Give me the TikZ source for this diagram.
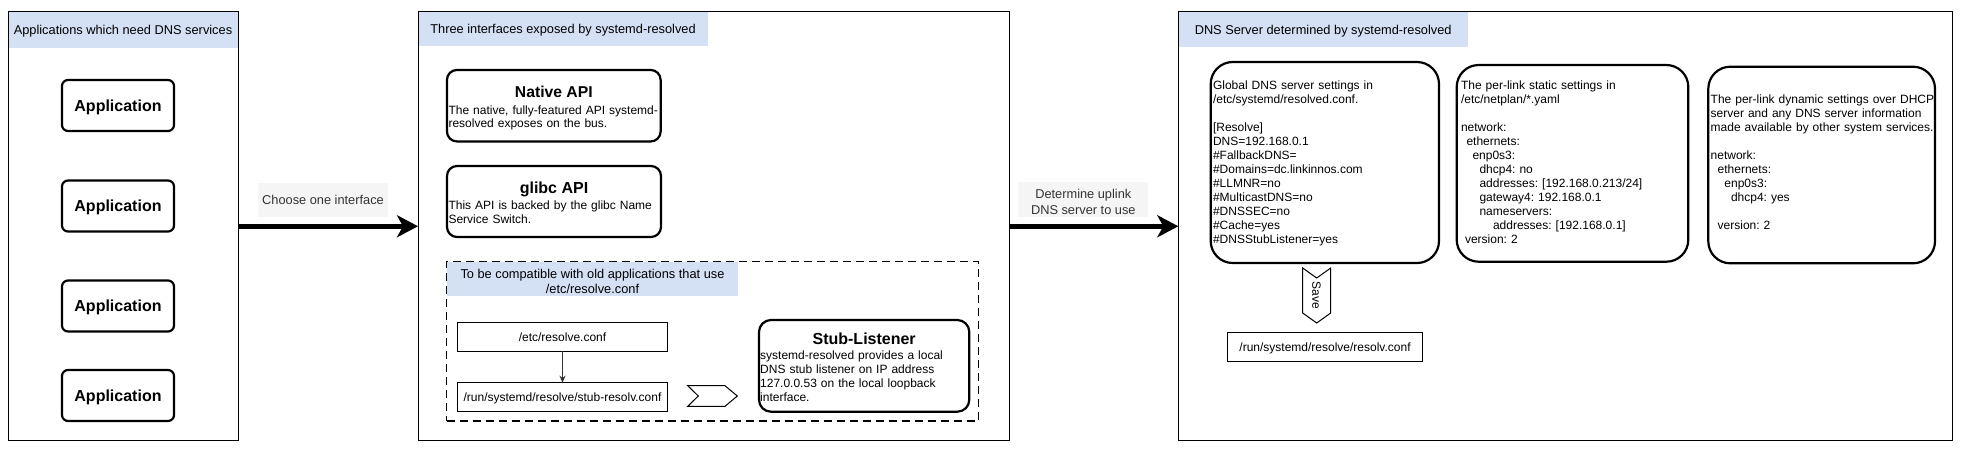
\documentclass[tikz,border=0pt]{standalone}
\usepackage{fontspec}
\setmainfont{Liberation Sans}
\usetikzlibrary{arrows.meta}
\definecolor{hdr}{HTML}{D4E1F5}
\definecolor{lblbg}{HTML}{F5F5F5}
\definecolor{txtgray}{HTML}{333333}
\newcommand\myfs[2]{\fontsize{#1pt}{#2pt}\selectfont}
\frenchspacing
\begin{document}
\frenchspacing
\begin{tikzpicture}[x=1pt,y=-1pt,
  every node/.style={inner sep=0pt,outer sep=0pt},
  panel/.style={draw=black,line width=1pt,rectangle},
  band/.style={fill=hdr,rectangle,font=\myfs{12.8}{15.4},text height=9.2pt,text depth=0pt},
  skbox/.style={draw=black,line width=2.2pt,rectangle,rounded corners=#1},
  skbox/.default=8pt,
  appbox/.style={skbox=6pt,minimum width=112pt,minimum height=51pt,font=\bfseries\myfs{16}{19},text height=11.5pt,text depth=0pt},
  body/.style={anchor=north west,align=left,text width=#1},
  plain/.style={draw=black,line width=1pt,rectangle,font=\myfs{12}{14},text height=8.6pt,text depth=0pt},
  lbl/.style={fill=lblbg,rectangle},
  bigarrow/.style={line width=5.5pt,-{Stealth[length=21pt,width=22pt,inset=6pt]}}
]
\useasboundingbox (0,0) rectangle (1967,451);
\fill[white] (0,0) rectangle (1967,451);

% ---------------- left panel
\node[band,minimum width=230pt,minimum height=35.8pt] (lph) at (123,29.6) {Applications which need DNS services};
\node[panel,minimum width=230pt,minimum height=429.1pt] (lp) at (123,226.25) {};
\node[appbox] (app1) at (118,105.5) {Application};
\node[appbox] (app2) at (118,206) {Application};
\node[appbox] (app3) at (118,306) {Application};
\node[appbox] (app4) at (118,395.5) {Application};

% ---------------- middle panel
\node[band,minimum width=290pt,minimum height=34.3pt] (mph) at (563,28.85) {Three interfaces exposed by systemd-resolved};
\node[panel,minimum width=591.3pt,minimum height=429.1pt] (mp) at (713.65,226.25) {};

\node[skbox=10pt,minimum width=213.7pt,minimum height=71.5pt] (native) at (553.8,105.7) {};
\node[font=\bfseries\myfs{15.7}{18},text height=11.3pt,text depth=0pt] (nativet) at (553.8,91.7) {Native API};
\node[body=214pt,font=\myfs{12}{13.5}] (nativeb) at (448.5,104.8) {\strut The native, fully-featured API systemd-\\resolved exposes on the bus.};

\node[skbox=10pt,minimum width=214pt,minimum height=71pt] (glibc) at (554,201.5) {};
\node[font=\bfseries\myfs{16}{19},text height=11.5pt,text depth=0pt] (glibct) at (554,187.7) {glibc API};
\node[body=214pt,font=\myfs{12}{14}] (glibcb) at (448.5,199.5) {\strut This API is backed by the glibc Name\\Service Switch.};

\node[fill=hdr,minimum width=291.6pt,minimum height=34.3pt] (cmph) at (592.5,278.85) {};
\node[draw=black,line width=1.5pt,dash pattern=on 8pt off 5pt,minimum width=531.6pt,minimum height=159.9pt] (compat) at (712.5,341.25) {};
\node[align=center,font=\myfs{12.8}{14.4}] (cmpht) at (592.5,281.5) {To be compatible with old applications that use\\/etc/resolve.conf};

\node[plain,minimum width=209.7pt,minimum height=28.7pt] (etc) at (562.5,336.7) {/etc/resolve.conf};
\node[plain,minimum width=209.7pt,minimum height=29pt] (stubf) at (562.5,397.2) {/run/systemd/resolve/stub-resolv.conf};
\draw[draw=txtgray,line width=1pt,-{Stealth[length=7pt,width=6pt,fill=txtgray]}] (etc) -- (stubf);

\draw[line width=1pt] (687.7,385.7) -- (725,385.7) -- (737.3,396) -- (725,406.3) -- (687.7,406.3) -- (698.3,396) -- cycle;

\node[skbox=12pt,minimum width=210.3pt,minimum height=91.7pt] (stub) at (864.15,365.85) {};
\node[font=\bfseries\myfs{16}{19},text height=11.5pt,text depth=0pt] (stubt) at (864.15,338.3) {Stub-Listener};
\node[body=208pt,font=\myfs{12}{14}] (stubb) at (760.2,349.5) {\strut systemd-resolved provides a local\\DNS stub listener on IP address\\127.0.0.53 on the local loopback\\interface.};

% ---------------- right panel
\node[band,minimum width=290.3pt,minimum height=35.6pt] (rph) at (1323.15,29.5) {DNS Server determined by systemd-resolved};
\node[panel,minimum width=774.4pt,minimum height=429.1pt] (rp) at (1565.5,226.25) {};

\node[skbox=22pt,minimum width=228.3pt,minimum height=201pt] (global) at (1324.85,162.5) {};
\node[body=226pt,font=\myfs{12}{14}] (globalt) at (1213,79.5) {\strut Global DNS server settings in\\
/etc/systemd/resolved.conf.\\
\strut\\
{[}Resolve]\\
DNS=192.168.0.1\\
\#FallbackDNS=\\
\#Domains=dc.linkinnos.com\\
\#LLMNR=no\\
\#MulticastDNS=no\\
\#DNSSEC=no\\
\#Cache=yes\\
\#DNSStubListener=yes};

\draw[line width=1pt] (1302.7,268) -- (1316.7,278) -- (1330.7,268) -- (1330.7,313) -- (1316.7,323) -- (1302.7,313) -- cycle;
\node[rotate=-90,font=\myfs{12}{14},text height=8.6pt,text depth=0pt] (save) at (1316.7,295.5) {Save};

\node[plain,minimum width=195.4pt,minimum height=28.3pt] (resolv) at (1325,346.85) {/run/systemd/resolve/resolv.conf};

\node[skbox=22pt,minimum width=231.6pt,minimum height=196.7pt] (static) at (1572.5,163.35) {};
\node[body=226pt,font=\myfs{12}{14}] (statict) at (1461,79.5) {\strut The per-link static settings in\\
/etc/netplan/*.yaml\\
\strut\\
network:\\
\hspace*{5.5pt}ethernets:\\
\hspace*{11.5pt}enp0s3:\\
\hspace*{18.5pt}dhcp4: no\\
\hspace*{18.5pt}addresses: [192.168.0.213/24]\\
\hspace*{18.5pt}gateway4: 192.168.0.1\\
\hspace*{18.5pt}nameservers:\\
\hspace*{32pt}addresses: [192.168.0.1]\\
\hspace*{4pt}version: 2};

\node[skbox=22pt,minimum width=226.7pt,minimum height=196.6pt] (dyn) at (1821.65,165) {};
\node[body=224pt,font=\myfs{12}{14}] (dynt) at (1710.7,93.5) {\strut The per-link dynamic settings over DHCP\\
server and any DNS server information\\
made available by other system services.\\
\strut\\
network:\\
\hspace*{7pt}ethernets:\\
\hspace*{13.7pt}enp0s3:\\
\hspace*{20.3pt}dhcp4: yes\\
\strut\\
\hspace*{7pt}version: 2};

% ---------------- connectors
\node[lbl,minimum width=130pt,minimum height=34.3pt,font=\myfs{12.8}{15.4},text height=9.2pt,text depth=0pt,text=txtgray] (l1) at (323,199.85) {Choose one interface};
\draw[bigarrow] (lp.east) -- (mp.west);

\node[lbl,minimum width=130pt,minimum height=35pt] (l2) at (1083.3,199.8) {};
\node[align=center,font=\myfs{12.8}{16},text=txtgray] (l2t) at (1083.3,202.3) {Determine uplink\\DNS server to use};
\draw[bigarrow] (mp.east) -- (rp.west);
\end{tikzpicture}
\end{document}
